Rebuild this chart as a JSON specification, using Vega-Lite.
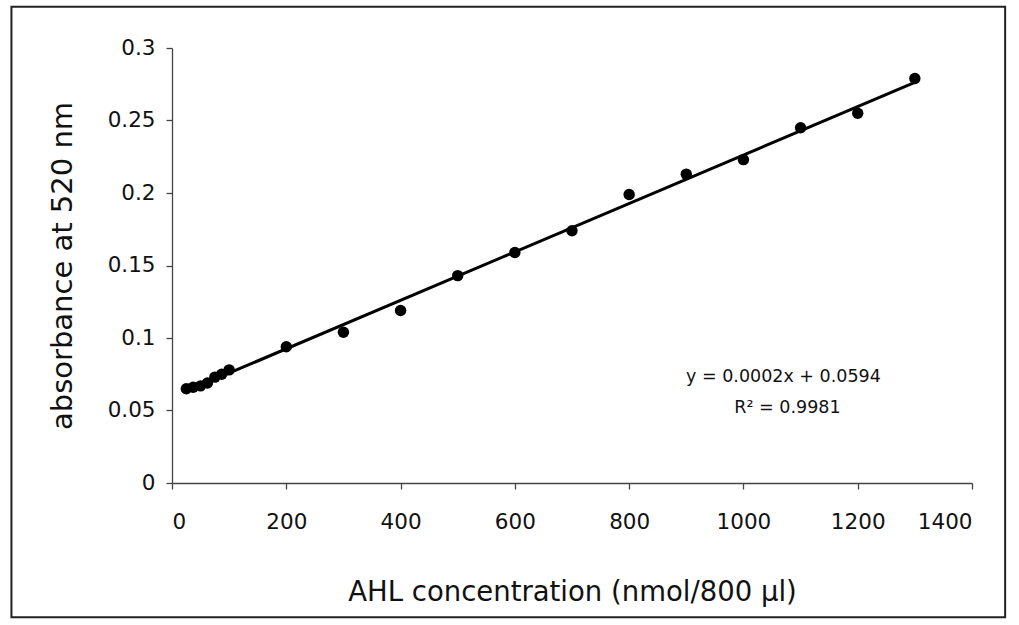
{
  "$schema": "https://vega.github.io/schema/vega-lite/v6.json",
  "width": 800,
  "height": 435,
  "autosize": {"type": "none"},
  "padding": {"left": 172, "top": 48, "right": 47, "bottom": 142},
  "background": "white",
  "config": {
    "view": {"stroke": null},
    "font": "DejaVu Sans"
  },
  "datasets": {
    "pts": [
      {"conc": 25, "abs": 0.065},
      {"conc": 37, "abs": 0.066},
      {"conc": 50, "abs": 0.067},
      {"conc": 62, "abs": 0.069},
      {"conc": 75, "abs": 0.073},
      {"conc": 87, "abs": 0.075},
      {"conc": 100, "abs": 0.078},
      {"conc": 200, "abs": 0.094},
      {"conc": 300, "abs": 0.104},
      {"conc": 400, "abs": 0.119},
      {"conc": 500, "abs": 0.143},
      {"conc": 600, "abs": 0.159},
      {"conc": 700, "abs": 0.174},
      {"conc": 800, "abs": 0.199},
      {"conc": 900, "abs": 0.213},
      {"conc": 1000, "abs": 0.223},
      {"conc": 1100, "abs": 0.245},
      {"conc": 1200, "abs": 0.255},
      {"conc": 1300, "abs": 0.279}
    ],
    "eq1": [{"label": "y = 0.0002x + 0.0594"}],
    "eq2": [{"label": "R² = 0.9981"}],
    "frame": [{"name": "frame"}]
  },
  "encoding": {
    "x": {"type": "quantitative", "scale": {"domain": [0, 1400], "nice": false},
      "axis": {"values": [0, 200, 400, 600, 800, 1000, 1200, 1400], "format": "d", "grid": false, "domainColor": "#444", "tickColor": "#444", "labelColor": "#111", "titleColor": "#111", "labelFont": "DejaVu Sans", "titleFont": "DejaVu Sans", "titleFontWeight": "normal", "labelFontSize": 21.5, "titleFontSize": 27.5, "tickSize": 6, "domainWidth": 1.3, "tickWidth": 1.3, "labelPadding": 22, "titlePadding": 46, "title": "AHL concentration (nmol/800 µl)"}},
    "y": {"type": "quantitative", "scale": {"domain": [0, 0.3], "nice": false},
      "axis": {"values": [0, 0.05, 0.1, 0.15, 0.2, 0.25, 0.3], "format": "~g", "grid": false, "domainColor": "#444", "tickColor": "#444", "labelColor": "#111", "titleColor": "#111", "labelFont": "DejaVu Sans", "titleFont": "DejaVu Sans", "titleFontWeight": "normal", "labelFontSize": 21.5, "titleFontSize": 29, "tickSize": 6, "domainWidth": 1.3, "tickWidth": 1.3, "labelPadding": 11, "titlePadding": 30, "title": "absorbance at 520 nm"}}
  },
  "layer": [
    {
      "data": {"name": "pts"},
      "transform": [{"regression": "abs", "on": "conc"}],
      "mark": {"type": "line", "color": "#000", "strokeWidth": 3},
      "encoding": {
        "x": {"field": "conc"},
        "y": {"field": "abs"}
      }
    },
    {
      "data": {"name": "pts"},
      "mark": {"type": "point", "filled": true, "color": "#000", "opacity": 1, "size": 130},
      "encoding": {
        "x": {"field": "conc"},
        "y": {"field": "abs"}
      }
    },
    {
      "data": {"name": "frame"},
      "mark": {"type": "rect", "fill": null, "stroke": "#222", "strokeWidth": 2, "clip": false},
      "encoding": {
        "x": {"datum": -281},
        "x2": {"datum": 1458},
        "y": {"datum": 0.3285},
        "y2": {"datum": -0.0925}
      }
    },
    {
      "data": {"name": "eq1"},
      "mark": {"type": "text", "fontSize": 17.5, "color": "#111", "align": "center", "baseline": "middle", "font": "DejaVu Sans"},
      "encoding": {
        "x": {"datum": 1070},
        "y": {"datum": 0.0731},
        "text": {"field": "label"}
      }
    },
    {
      "data": {"name": "eq2"},
      "mark": {"type": "text", "fontSize": 17.5, "color": "#111", "align": "center", "baseline": "middle", "font": "DejaVu Sans"},
      "encoding": {
        "x": {"datum": 1077},
        "y": {"datum": 0.0517},
        "text": {"field": "label"}
      }
    }
  ]
}
